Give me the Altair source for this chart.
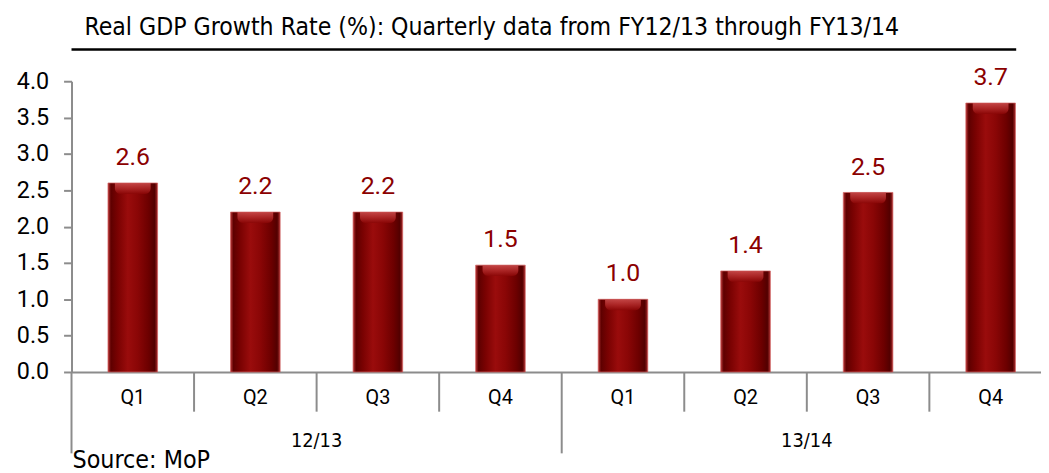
import altair as alt
import pandas as pd

years = ["12/13", "12/13", "12/13", "12/13", "13/14", "13/14", "13/14", "13/14"]
quarters = ["Q1", "Q2", "Q3", "Q4", "Q1", "Q2", "Q3", "Q4"]
values = [2.6, 2.2, 2.2, 1.47, 1.0, 1.39, 2.47, 3.7]
y_ticks = [0, 0.5, 1.0, 1.5, 2.0, 2.5, 3.0, 3.5, 4.0]
title_text = "Real GDP Growth Rate (%): Quarterly data from FY12/13 through FY13/14"
source_text = "Source: MoP"

cats = [f"{y} {q}" for y, q in zip(years, quarters)]
df = pd.DataFrame({"cat": cats, "year": years, "quarter": quarters, "value": values})

W, H = 977, 293
RANGE_W = 988  # the last band runs past the visible edge, as in the reference
NARROW = "Liberation Sans Narrow, DejaVu Sans Condensed, Arial Narrow, sans-serif"
RED = "#8b0000"
GRAY = "#8c8c8c"

xscale = alt.Scale(domain=cats, paddingInner=0, paddingOuter=0, range=[0, RANGE_W])
yscale = alt.Scale(domain=[0, 4])

x_axis = alt.Axis(
    title=None, ticks=False, grid=False, labelExpr="split(datum.label, ' ')[1]",
    labelFont="Roboto", labelFontSize=20, labelColor="#000", labelPadding=16,
    domainColor=GRAY, domainWidth=2, labelAngle=0,
)
y_axis = alt.Axis(
    title=None, values=y_ticks, format=".1f", grid=False, labelOverlap=False,
    tickSize=8, tickColor=GRAY, tickWidth=2, domainColor=GRAY, domainWidth=2,
    labelFont="Roboto", labelFontSize=23.5, labelColor="#000", labelPadding=15,
)


def X(**kw):
    return alt.X("cat:N", sort=cats, scale=xscale, axis=x_axis, **kw)


def Y():
    return alt.Y("value:Q", scale=yscale, axis=y_axis)


grad = alt.Gradient(
    gradient="linear", x1=0, x2=1, y1=0, y2=0,
    stops=[
        alt.GradientStop(offset=0, color="#b83535"),
        alt.GradientStop(offset=0.06, color="#5e0000"),
        alt.GradientStop(offset=0.2, color="#7a0202"),
        alt.GradientStop(offset=0.4, color="#9a0c0c"),
        alt.GradientStop(offset=0.6, color="#8a0606"),
        alt.GradientStop(offset=0.82, color="#6c0000"),
        alt.GradientStop(offset=0.94, color="#520000"),
        alt.GradientStop(offset=1, color="#a82a2a"),
    ],
)
cap_grad = alt.Gradient(
    gradient="linear", x1=0, x2=0, y1=0, y2=1,
    stops=[
        alt.GradientStop(offset=0, color="#cc5050"),
        alt.GradientStop(offset=0.5, color="#b02a2a"),
        alt.GradientStop(offset=1, color="#8a0606"),
    ],
)

base = alt.Chart(df)

bars = base.mark_bar(size=50, color=grad, stroke="#d06060", strokeWidth=1, strokeOpacity=0.7).encode(
    x=X(), y=Y()
)
cap = base.transform_calculate(top2="datum.value - 0.15").mark_bar(
    size=36, color=cap_grad, opacity=0.85, cornerRadiusBottomLeft=14, cornerRadiusBottomRight=14
).encode(x=X(), y=Y(), y2="top2:Q")
labels = base.mark_text(
    baseline="alphabetic", dy=-18, font="Roboto", fontSize=25, color=RED
).encode(x=X(), y=Y(), text=alt.Text("value:Q", format=".1f"))

q_sep = base.transform_filter("datum.quarter != 'Q1'").mark_rule(color=GRAY, strokeWidth=2).encode(
    x=X(bandPosition=0), y=alt.value(H), y2=alt.value(H + 40),
)
y_sep = base.transform_filter("datum.quarter == 'Q1'").mark_rule(color=GRAY, strokeWidth=2).encode(
    x=X(bandPosition=0), y=alt.value(H), y2=alt.value(H + 82),
)
year_labels = base.transform_filter("datum.quarter == 'Q3'").mark_text(
    font=NARROW, fontSize=20, color="#000", baseline="alphabetic"
).encode(x=X(bandPosition=0), y=alt.value(H + 76), text="year:N")

title_df = pd.DataFrame({"t": [title_text]})
title = alt.Chart(title_df).mark_text(
    font=NARROW, fontSize=24.8, color="#000", align="left", baseline="alphabetic"
).encode(x=alt.value(13), y=alt.value(-47), text="t:N")
title_rule = alt.Chart(title_df).mark_rule(color="#000", strokeWidth=2.5).encode(
    x=alt.value(0), x2=alt.value(952), y=alt.value(-32)
)
source_df = pd.DataFrame({"t": [source_text]})
source = alt.Chart(source_df).mark_text(
    font=NARROW, fontSize=25, color="#000", align="left", baseline="alphabetic"
).encode(x=alt.value(1), y=alt.value(H + 97), text="t:N")

chart = alt.layer(
    bars, cap, labels, q_sep, y_sep, year_labels, title, title_rule, source
).properties(
    width=W, height=H,
    background="white",
    autosize=alt.AutoSizeParams(type="none"),
    padding={"left": 64, "top": 72, "right": 0, "bottom": 100},
).configure_view(
    stroke="#ffffff", strokeWidth=0, strokeOpacity=0
).configure_axis(grid=False)

chart.save("out.html", embed_options={"renderer": "svg", "actions": False})
